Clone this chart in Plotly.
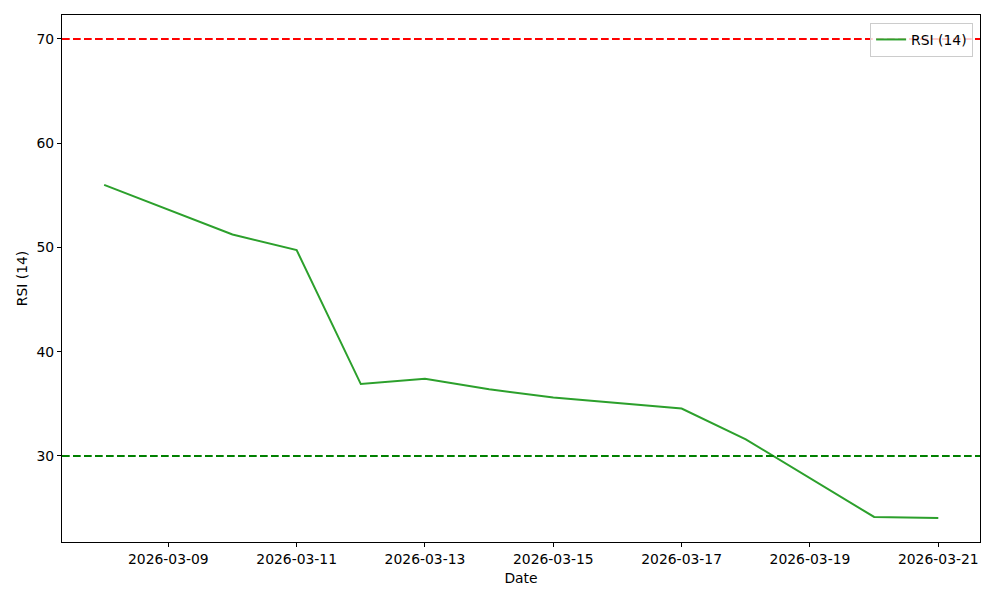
import plotly.graph_objects as go

dates = ["2026-03-08", "2026-03-10", "2026-03-11", "2026-03-12", "2026-03-13",
         "2026-03-14", "2026-03-15", "2026-03-17", "2026-03-18", "2026-03-20", "2026-03-21"]
rsi = [56.0, 51.25, 49.75, 36.9, 37.4, 36.4, 35.6, 34.55, 31.6, 24.15, 24.05]
overbought = 70
oversold = 30
tick_dates = ["2026-03-09", "2026-03-11", "2026-03-13", "2026-03-15",
              "2026-03-17", "2026-03-19", "2026-03-21"]

font = "DejaVu Sans"
fs = 13.9
fig = go.Figure()
fig.add_trace(go.Scatter(x=dates, y=rsi, mode="lines", name="RSI (14)",
                         line=dict(color="#2ca02c", width=2)))
fig.add_hline(y=overbought, line=dict(color="#ff0000", width=2, dash="7.7px,3.3px"))
fig.add_hline(y=oversold, line=dict(color="#008000", width=2, dash="7.7px,3.3px"))

fig.update_layout(
    width=992, height=592,
    margin=dict(l=54, r=20, t=7, b=58),
    paper_bgcolor="white", plot_bgcolor="white",
    font=dict(family=font, size=fs, color="black"),
    showlegend=True,
    legend=dict(x=0.9925, y=0.985, xanchor="right", yanchor="top",
                bgcolor="rgba(255,255,255,0.8)", bordercolor="#cccccc", borderwidth=1,
                font=dict(size=fs)),
    xaxis=dict(
        type="date",
        range=["2026-03-07 08:14", "2026-03-21 15:36"],
        tickvals=tick_dates, ticktext=tick_dates,
        showgrid=False, zeroline=False,
        showline=True, linecolor="black", linewidth=1.1, mirror=True,
        ticks="outside", ticklen=4, tickcolor="black",
        title=dict(text="Date", font=dict(size=fs), standoff=7),
    ),
    yaxis=dict(
        range=[21.75, 72.3],
        tickvals=[30, 40, 50, 60, 70],
        showgrid=False, zeroline=False,
        showline=True, linecolor="black", linewidth=1.1, mirror=True,
        ticks="outside", ticklen=4, tickcolor="black",
        title=dict(text="RSI (14)", font=dict(size=fs), standoff=5),
    ),
)
fig.write_html("out.html")
